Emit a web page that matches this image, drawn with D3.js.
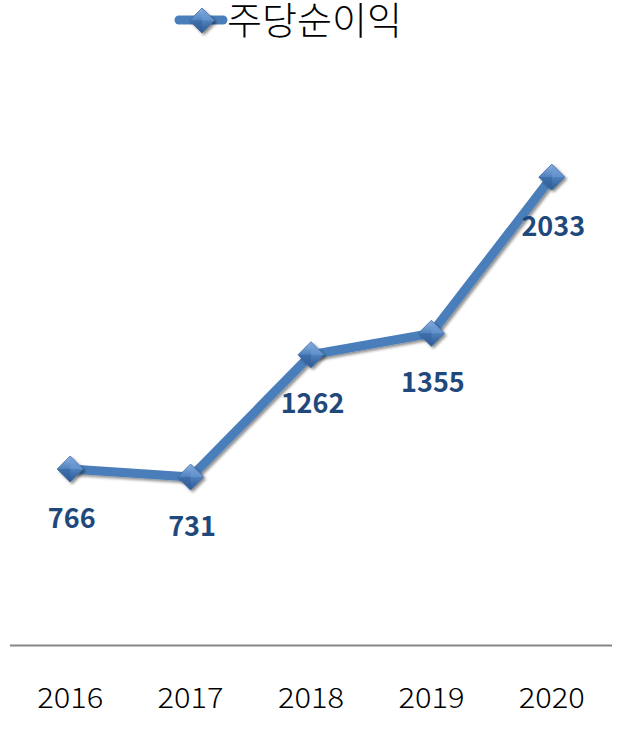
<!DOCTYPE html>
<html><head><meta charset="utf-8">
<script src="https://cdn.jsdelivr.net/npm/d3@7"></script>
<style>body{margin:0;background:#fff}svg{display:block}</style>
</head><body>
<svg id="c" width="628" height="729"></svg>
<script>
const categories = ["2016","2017","2018","2019","2020"];
const values = [766, 731, 1262, 1355, 2033];
const seriesName = "주당순이익";

(function(){
const svg = d3.select("#c");
const mLeft = 10, mRight = 612, mTop = 69.5, mBottom = 645.5;
const x = d3.scaleBand().domain(categories).range([mLeft, mRight]);
const y = d3.scaleLinear().domain([0, 2500]).range([mBottom, mTop]);
const cx = d => x(d) + x.bandwidth() / 2;

const defs = svg.append("defs");
const g1 = defs.append("linearGradient").attr("id","mk").attr("x1","0").attr("y1","0").attr("x2","0").attr("y2","1");
g1.append("stop").attr("offset","0").attr("stop-color","#8fb4e3");
g1.append("stop").attr("offset","0.5").attr("stop-color","#4f81bd");
g1.append("stop").attr("offset","1").attr("stop-color","#2c5a92");
const f = defs.append("filter").attr("id","sh").attr("x","-50%").attr("y","-50%").attr("width","200%").attr("height","200%");
f.append("feGaussianBlur").attr("in","SourceAlpha").attr("stdDeviation","1.5");
f.append("feOffset").attr("dx","1.5").attr("dy","2").attr("result","b");
f.append("feComponentTransfer").append("feFuncA").attr("type","linear").attr("slope","0.45");
const m = f.append("feMerge"); m.append("feMergeNode"); m.append("feMergeNode").attr("in","SourceGraphic");

// axis
const axis = svg.append("g").attr("transform", `translate(0,${mBottom})`)
  .call(d3.axisBottom(x).tickSize(0).tickPadding(42.5));
axis.select(".domain").attr("stroke","#868686").attr("stroke-width",2).attr("d",`M${mLeft},0H${mRight}`);
axis.selectAll("text").attr("font-family","'Noto Sans CJK KR', 'DejaVu Sans', sans-serif")
  .attr("font-size",28).attr("font-weight",300).attr("fill","#000").attr("textLength",66).attr("lengthAdjust","spacingAndGlyphs");

// line
const line = d3.line().x((d,i)=>cx(categories[i])).y(d=>y(d));
svg.append("path").datum(values).attr("d", line).attr("fill","none")
  .attr("stroke","#4a7ebb").attr("stroke-width",9).attr("stroke-linejoin","round").attr("filter","url(#sh)");

function diamond(sel, px, py, r) {
  const g = sel.append("g").attr("transform",`translate(${px},${py})`).attr("filter","url(#sh)");
  g.append("path").attr("d",`M0,${-r}L${r},0L0,${r}L${-r},0Z`).attr("fill","url(#mk)").attr("stroke","#3a6aa3").attr("stroke-width",0.8);
  g.append("path").attr("d",`M0,${-r}L${r},0L0,0Z`).attr("fill","#6f9bd3").attr("opacity",0.6);
  g.append("path").attr("d",`M${-r},0L0,${r}L0,0Z`).attr("fill","#2f5e97").attr("opacity",0.5);
  return g;
}
values.forEach((v,i)=>diamond(svg, cx(categories[i]), y(v), 13));

// labels
svg.append("g").selectAll("text").data(values).join("text")
  .attr("x",(d,i)=>cx(categories[i]) + 1.5)
  .attr("y",d=>y(d)+58.5)
  .attr("text-anchor","middle")
  .attr("font-family","'Noto Sans CJK KR', 'DejaVu Sans', sans-serif")
  .attr("font-weight","bold").attr("font-size",27).attr("fill","#1f497d")
  .text(d=>d);

// legend
const lg = svg.append("g");
lg.append("line").attr("x1",179).attr("x2",223).attr("y1",20).attr("y2",20)
  .attr("stroke","#4a7ebb").attr("stroke-width",9).attr("stroke-linecap","round");
diamond(lg, 202, 20.5, 12.5);
lg.append("text").attr("x",227).attr("y",34).text(seriesName)
  .attr("font-family","'Noto Sans CJK KR', sans-serif").attr("font-size",38).attr("font-weight",300).attr("fill","#000")
  .attr("textLength",175).attr("lengthAdjust","spacingAndGlyphs");
})();
</script>
</body></html>
